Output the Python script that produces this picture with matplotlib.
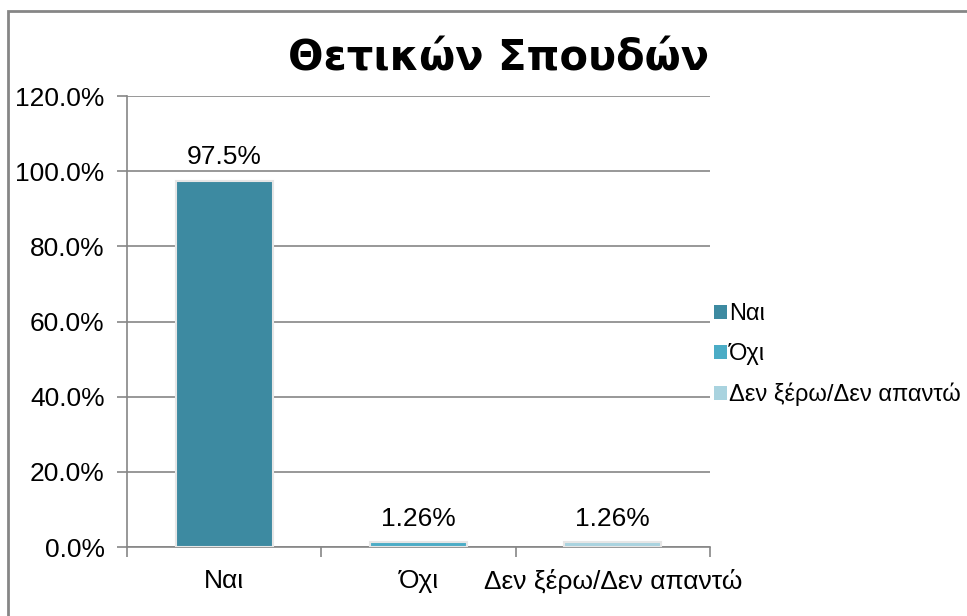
import matplotlib
matplotlib.use("Agg")
import matplotlib.pyplot as plt
from matplotlib.patches import Rectangle, Patch
from matplotlib.ticker import FuncFormatter

plt.rcParams["font.family"] = ["Liberation Sans", "DejaVu Sans"]

categories = ["Ναι", "Όχι", "Δεν ξέρω/Δεν απαντώ"]
values = [97.5, 1.26, 1.26]
labels = ["97.5%", "1.26%", "1.26%"]
colors = ["#3d8aa1", "#4bacc6", "#a9d3df"]
title = "Θετικών Σπουδών"

grid_col = "#868686"
fs = 19

fig = plt.figure(figsize=(9.67, 6.16), dpi=100)
ax = fig.add_axes([0.1313, 0.112, 0.6029, 0.732])

x = range(len(categories))
bars = ax.bar(x, values, width=0.5, color=colors,
              edgecolor="#e6e6e6", linewidth=1.5, zorder=3)

for b, lab in zip(bars, labels):
    ax.text(b.get_x() + b.get_width() / 2, b.get_height() + 3.0, lab,
            ha="center", va="bottom", fontsize=fs)

ax.set_xlim(-0.5, len(categories) - 0.5)
ax.set_ylim(0, 120)
ax.set_yticks(range(0, 121, 20))
ax.yaxis.set_major_formatter(FuncFormatter(lambda v, p: f"{v:.1f}%"))
ax.yaxis.grid(True, color=grid_col, linewidth=1.2, zorder=0)

# category boundaries get tick marks, names sit on minor ticks
ax.set_xticks([i - 0.5 for i in range(len(categories) + 1)], minor=False)
ax.set_xticklabels([])
ax.set_xticks(list(x), minor=True)
ax.set_xticklabels(categories, minor=True, fontsize=fs)
ax.tick_params(axis="x", which="minor", length=0, pad=16)
ax.tick_params(axis="x", which="major", length=7, color=grid_col, width=1.2)
ax.tick_params(axis="y", length=7, color=grid_col, width=1.2, labelsize=fs, pad=9)

for s in ["top", "right"]:
    ax.spines[s].set_visible(False)
for s in ["left", "bottom"]:
    ax.spines[s].set_color(grid_col)
    ax.spines[s].set_linewidth(1.2)

handles = [Patch(facecolor=c, edgecolor="none") for c in colors]
fig.legend(handles, categories, loc="center left",
           bbox_to_anchor=(0.738, 0.424), frameon=False, fontsize=17,
           handlelength=0.55, handleheight=0.55, handletextpad=0.1,
           labelspacing=0.75, borderaxespad=0, borderpad=0)

fig.text(0.515, 0.905, title, ha="center", va="center",
         fontsize=30, fontweight="bold", family="DejaVu Sans")

# outer chart frame, only left and top edges fall inside the canvas
fig.add_artist(Rectangle((0.0083, -0.5), 2, 0.982 + 0.5, transform=fig.transFigure,
                         fill=False, edgecolor=grid_col, linewidth=2))

fig.savefig("out.png", dpi=100)
